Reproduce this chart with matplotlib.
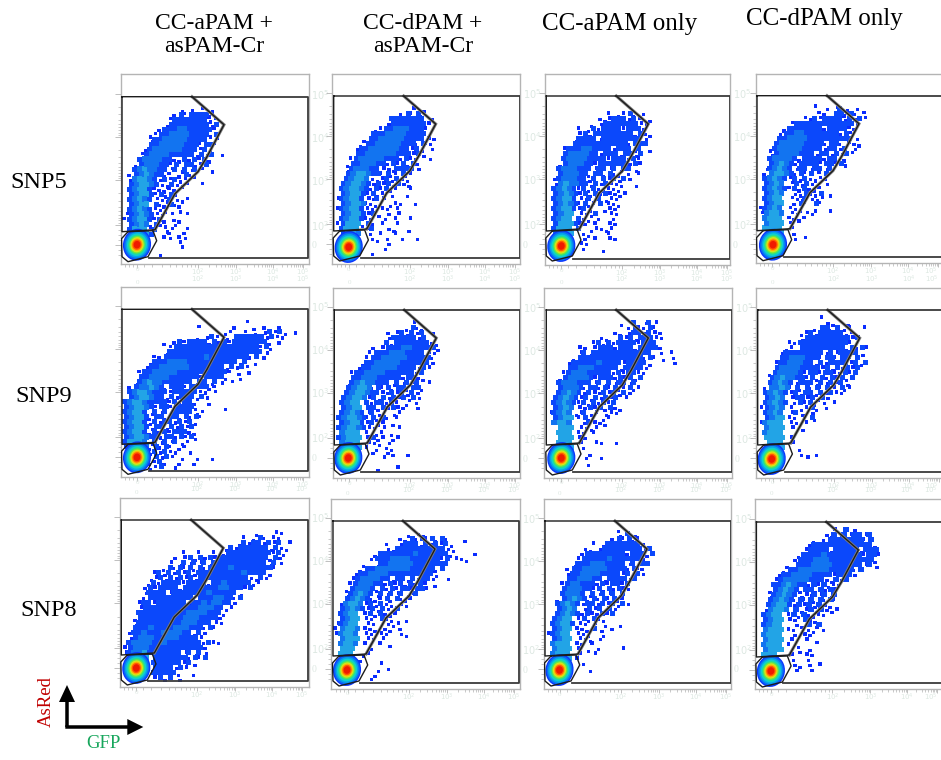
import numpy as np
from matplotlib import pyplot as plt
from matplotlib.patches import Ellipse

plt.rcParams['font.family'] = ['Liberation Serif', 'DejaVu Serif']

col_titles = ['CC-aPAM +\nasPAM-Cr', 'CC-dPAM +\nasPAM-Cr', 'CC-aPAM only', 'CC-dPAM only']
title_x = [214, 423, 620, 824]
title_y = [35, 35, 24, 19]
title_size = [17, 17, 18, 18]
row_names = ['SNP5', 'SNP9', 'SNP8']
row_name_x = [39, 44, 49]
row_name_y = [182, 396, 610]

x_tick_labels = ['0', '$10^{2}$', '$10^{3}$', '$10^{4}$', '$10^{5}$']
y_tick_labels = ['$10^{5}$', '$10^{4}$', '$10^{3}$', '$10^{2}$', '0']

# panel frames, in pixels of the picture
frame_left = [120.7, 332.3, 545, 755.7, 120.7, 333, 544.3, 756.3, 120, 331.3, 543.5, 755]
frame_right = [308.7, 520.3, 730.3, 944, 308.7, 520.3, 732.3, 944, 308.7, 519.5, 731, 944]
frame_top = [74, 74, 74, 74, 287.3, 288, 288, 288, 498, 499, 499, 499]
gate_left = [122, 333.7, 546.3, 757, 122, 334.3, 546.3, 757.7, 121.3, 333, 545, 756.4]
gate_top = [96.7, 96, 96, 95.7, 309.3, 310, 310, 310, 520, 521, 521, 522]
gate_bottom = [258.3, 258.3, 259, 257.3, 471.3, 472, 471.7, 471.7, 681.3, 682.7, 683, 683]

core_x = [15, 15, 15, 16, 15, 14, 15, 14, 15, 14, 14.5, 14.5]
core_y = [148, 151, 150, 149, 148, 148, 148, 149, 148, 149, 149, 149]

# gate outlines, offsets from the top left corner of the gate
upper_gate_x = [0, 70, 102, 85, 76, 53, 33, 0, 0]
upper_gate_y = [0, 0, 28, 60, 75, 97, 133, 135, 0]
core_gate_x = [6, 31, 34.7, 26, 6, 0, -0.5, 6]
core_gate_y = [135, 134, 144, 160, 165, 160, 142, 135]

# density of the central population, outside to centre
core_rx = [14, 12.8, 11.4, 10, 8.8, 7.7, 6.6, 5.6, 4.6, 3.4]
core_ry = [16, 14.6, 13, 11.4, 10, 8.8, 7.6, 6.4, 5.2, 3.8]
core_colors = ['#0a35ff', '#0a6cf5', '#06a4ea', '#0fd0d0', '#25e090', '#70e840',
               '#d0e820', '#ffb400', '#ff5a00', '#f01a00']

# events, one character per 5 px cell below the gate top:
# . single event, 1 2 3 increasing density
snp5_apam_cr = ['', '',
    '           . . . .',
    '          .1.1111.',
    '         .1111111..',
    '        .11111111.1',
    '       .1112211111.',
    '     ..1122221111.1',
    '     .11222221111 .',
    '     1122222111.11.',
    '    .1222222111.1.',
    '   .1222211111.1.1 .',
    '   1222211..1.1.1.',
    '  .122211.1 11..1',
    '  1232211.1.1.1. .',
    ' .123211.. .1..',
    ' .23321.1.1..',
    ' 123321..1...  .',
    ' 12331.....',
    ' 12331.1.1.',
    ' 12321...1...',
    ' 1233 1..1..',
    ' 12321...  .',
    '.12321.. .  .',
    '.12331.1. ..',
    ' 1232.1.. .',
    ' 1333 1 ..  .',
    ' 13331  .. ..',
    '         . ..',
    '           .',
    '',
    '       .']
snp5_dpam_cr = ['', '',
    '               . .',
    '             .1.1.',
    '           1111111 .',
    '          .1111111.',
    '        ..11222111.',
    '       11122221111',
    '     . 11222221111..',
    '     .1122222111.1..',
    '    .1122222211.1. .',
    '    11222222111.1.',
    '   .122222111.1..  .',
    '  .1122211.1.1.1.',
    '  .122211...1111.',
    '  1233211.1..1..',
    '  12332...1.1..',
    ' 123321.1.1.1..',
    ' 123321.1.1..  .',
    ' 12331.1.. .  .',
    '.12331..1.',
    ' 12332...  ...  .',
    '.12331.. .. .',
    ' 12331.1. . .',
    ' 12331..  . .  .',
    '.1333.1. .  .',
    ' 1333 .1  ..  .',
    ' 1332  . .  .',
    '       .. .  .  .',
    '          .',
    '          .',
    '       .']
snp5_apam_only = ['', '', '',
    '            . ..1. .',
    '          ...111.1. .',
    '        . .1111111..',
    '      . .1.1111.111.',
    '      .1.11111111.1..',
    '     .1111.11111111.',
    '     11111111111.111',
    '   .111221111.111.1 .',
    '   1222211.111.11.1',
    '   122221111.111.1.',
    '  .122211.111111.1.',
    '  1222111.11.1.11.',
    '  122211.11.1.. . .',
    ' .122211.1 1.1.1.',
    ' .232211.1.1...  .',
    ' 12321.1.1.....',
    ' 12321.1.1.1....',
    ' 12331..1.1...',
    ' 12321.1..1 ...',
    ' 12331.1.  ...',
    ' 1233 ...1  ..',
    ' 1233 1.. .  .',
    ' 13331.. .  ..',
    ' 1333 1 .....',
    ' 2333  ..   .',
    '       . .  ..',
    '      ..',
    '       .   .']
snp5_dpam_only = ['',
    '           .',
    '             . .1. .',
    '            .. 11.1. .',
    '         ..1.1111.1.1.',
    '      .111111111111.',
    '     .1111111.1111..',
    '    .11221111111.1.',
    '    112222111111111.',
    '   1222221111.11. ...',
    '  .1222221111.11.1 .',
    '  .12222111.11.1.1.',
    '  122221.1111.11 .',
    '  12321.1111.11.1.',
    ' .12321.11.11.1',
    ' .23321.1.1 .1',
    ' 12321.1.1....',
    ' 1232 .1.1.  .',
    ' 12321.1.1...',
    ' 1232  ..1..1 .',
    ' 1233 ...1...',
    ' 1233  .1. 1.',
    '.1232 ...  .  .',
    '.2332 .. ..',
    ' 2333 ....',
    ' 2333 .',
    ' 3333 .',
    '  333  .',
    '       . .']
snp9_apam_cr = ['', '',
    '                        .',
    '               .      .   . .  .',
    '                    ..  . . .1.1. .',
    '              . .1. . 111111.1..',
    '        . .1.1111.1.1.1111111. .',
    '         .11111111111111111.1.',
    '        .1111111111111111111.',
    '      ..11111111211111111.1 .',
    '     .11122221111111111.1 .',
    '    .112222221111111.1.1.',
    '   .11222221111111111. . .',
    '   112222111111.1111.  .',
    '  .12322111111.11.1. .',
    ' .122321.111.1111..',
    ' 12332111.11111.. .',
    ' 1233211.1.111.1.',
    '123321111.1.11.  .',
    '123321.11.1111.     .',
    '12331.1.1.1111..',
    '12331.11.11.1.1.',
    '12331.1.11.1.1.',
    '12331.11.1.1.1',
    '12331.1.1.111..',
    '1233211.11.1.1.',
    '13332.1.1.1..',
    '13332.1.1. ..',
    '     .1.1..  .',
    '      1.1. .  .  .',
    '     ..1.  .  .',
    '     ..1  .']
snp9_dpam_cr = ['', '',
    '               .',
    '              .1..',
    '          . .1.1.1 .',
    '          .11111.1',
    '          1.1111111..',
    '       . .1112211111.',
    '      . 1112221111..',
    '      .112222211111.',
    '     .1122222111111.',
    '    .11222221111.1.',
    '   .112222111111.1',
    '   1122211111.11..',
    '  .12322111.1.1.1 .',
    '  12332.1.1.11.11.',
    '  1233211..1.1.1.',
    ' 12332.1.1.1.1.1.',
    ' 1233 1.11.1. . .',
    ' 1233 11.1.1..  .',
    ' 12321.1.  ..',
    '123321.1.1. .',
    ' 12331.1.. .',
    '123321.. .  .',
    ' 2333 . .. .',
    '12333 .1.. ..',
    ' 2333 ... .',
    ' 3333 . . ..',
    '       .  ..  .',
    '         .',
    '',
    '        .   .']
snp9_apam_only = ['', '',
    '              .  1 .1.',
    '                .1..1.',
    '             .. .11.1..',
    '          ..  1.1.111..',
    '         .1.1.1111.111',
    '      .. .111.111.1111.',
    '      .1.111111111111 . .',
    '     .1111111111111.1. . .',
    '    .1111121111.1111.    .',
    '    1122211111.1111.',
    '   .122211111.1.11..',
    '  .122221.111.1.1.1',
    '  1222111.1.1.11.1',
    '  12221.11.1.1..1..',
    '  12321.1..1.1.1.',
    ' 12321.1.1.1.1 .',
    ' 12321.1.1.1.1',
    ' 1232 ..1.1.1..',
    '.1232..1.. ...',
    ' 1233 .1.  ..',
    ' 2332  .1...',
    '  333 ....',
    '  333 .. .',
    '  333 ..',
    '  333 .  ..  .',
    '  333  .',
    '        .',
    '       .  .',
    '        .']
snp9_dpam_only = ['',
    '            .',
    '             ..  .',
    '           .11.1 ..  .',
    '        ..1.11111..',
    '        .111111111.1',
    '      ..1111111111.',
    '     .. 111111111.1.1.',
    '    .11111111.1.1111.',
    '    11222111.11.11.1',
    '   .1122211.1.1111.1.1',
    '   122221111.1.1.1.1',
    '  .122221.11.11..1.1',
    '  1232211.1.1.1.1.1',
    '  12321.111.1.1.1.',
    ' .2232.1.1.1.1..1..',
    ' 12321.1.11.1.1..',
    ' 1232 .11.1.1.',
    ' 12321 .1.1. . .',
    '.1232 . ..1. .',
    ' 1232 .1. .',
    ' 1233 .. .1.',
    '.2333 .. .',
    ' 2333 . .',
    ' 2333',
    ' 3333 .',
    '  333 .',
    '  333   .',
    '        .  .',
    '         .']
snp8_apam_cr = ['', '',
    '                          .   ..',
    '                        . .1. ..',
    '                       .1.11.1.1 .',
    '                    .1.111111.1..',
    '            .  .  . .111111111.1.',
    '          . .1.1.1.1111111111.1.',
    '         . .1.1.1.11111111111.1.',
    '        .1.1.1.1.1111211111111.',
    '      .1.1.1.1.11111111121111.',
    '     ..1.1.1.1.1111111111..1.',
    '     .1.1111.1111.11211111..',
    '    .1.1111.111111122111.1',
    '    .1111.1111111211111.',
    '    .111111111.1112211.1',
    '   .11.111111.11212211.',
    '   .1111111111122211..',
    '   11111111112222111.',
    '  .1111111112221111.',
    '  .111111111222111..',
    '  11121111222111.1.',
    ' .112111222211.1.',
    ' .1222112221111.',
    ' 122221121111111.1..',
    '.122211111111111.',
    '.12231111111.1.1.',
    ' 1233 1111111.1.1',
    '      111111.1.',
    '      1111.1.',
    '      11111.  .',
    '      .1.1 .']
snp8_dpam_cr = ['', '',
    '              . ..',
    '             ..1.1.1.1.   .',
    '          .  .111.1.1.1.',
    '          ..1111111111..',
    '        .11111112111111.    .',
    '       .1112222111111.1 ...',
    '     .  .11222221111111',
    '     .11222222211111.1',
    '    .112222111111111.',
    '   .1222211.11.1.11.  .',
    '   .122211.1.1.1.1. .',
    '  .12221.1.1.11.11.',
    '  .12321.1.1.1..1',
    '  12321...1.1...',
    ' .2332.1.1.. ..',
    ' 12321.1.1..1',
    ' 1233 .1.1...',
    ' 1233 .. 1..  .',
    '.1233 ..  ...',
    '.2332 ... .. .',
    '.2332 .. ..  ..',
    ' 2333 .. .',
    ' 2332 .  . .',
    ' 333   .',
    ' 333 ..',
    ' 333 .',
    '         .',
    '        . .',
    '        .',
    '       .']
snp8_apam_only = ['',
    '              .',
    '              . 1.',
    '             .1.1..',
    '         . .1111111.',
    '       .. .11111111.1',
    '       .11111111.111.1',
    '      .111112111111.',
    '     .1112221111.1.11',
    '    .11222221111.1..',
    '    .1122221111.1.1.',
    '    1122211.1111.1',
    '   .122111.1.11.1',
    '   122211.1.1.1..',
    '   12221.1.1.1.1',
    '  .12321.1.1.1..',
    '  12321.11.1.1.1.',
    '  1232 .1.1.1.',
    '  12321.1..1.1',
    ' 1233 .1.1..',
    ' 12331.. . .  .',
    ' 1233 ...1 . .',
    '.1233 ...  .',
    ' 1233 ... .',
    ' 2333 .. .',
    ' 2333 . . .    .',
    ' 2333 .  .',
    '  333 .',
    '       .',
    '        .']
snp8_dpam_only = ['',
    '               . 1 .',
    '             ..1.1.11.1',
    '           . .1111111.1',
    '          .111111111111.',
    '         .1111.11111.111',
    '        .111121111111.11.',
    '       .111222111111111.',
    '     .  1112222111111.1.',
    '     .1122222211111.1',
    '    .1122221111.111.',
    '   .122222111..1.1',
    '   1123211.1.1...',
    '  .12321.11.1.1.',
    '  .12321...1.1.1',
    '  12321.1.1.1.1.',
    '  12331.1.1.1..',
    ' .2332 1..1.1...',
    ' 1233 .1.1....',
    ' 1233 .. 1..',
    ' 1233  .. 1.1',
    ' 2333 ..  .. .',
    ' 2333  . ..',
    ' 2333 .  . .',
    ' 2333 . .',
    ' 2333   . .',
    ' 333  .  ..',
    ' 333   .  .',
    '       .. . .',
    '       .  .']

panels = [snp5_apam_cr, snp5_dpam_cr, snp5_apam_only, snp5_dpam_only,
          snp9_apam_cr, snp9_dpam_cr, snp9_apam_only, snp9_dpam_only,
          snp8_apam_cr, snp8_dpam_cr, snp8_apam_only, snp8_dpam_only]

cell_colors = {'.': '#0a2cff', '1': '#0b48fb', '2': '#1274f0', '3': '#22a4e6'}
cell_sizes = {'.': 6, '1': 15, '2': 16, '3': 16}

W, H = 941, 760
PALE = '#dde8e2'


def log_ticks(majors):
    minors = []
    for a, b in zip(majors[:-1], majors[1:]):
        for k in range(2, 10):
            minors.append(a + (b - a) * np.log10(k))
    return minors


if __name__ == '__main__':
    fig = plt.figure(figsize=(W / 100, H / 100), dpi=100)

    for i, rows in enumerate(panels):
        gl, gt, gb = gate_left[i], gate_top[i], gate_bottom[i]
        fl, fr, ft = frame_left[i], frame_right[i], frame_top[i]
        fb = gb + 6
        ax = fig.add_axes([fl / W, 1 - fb / H, (fr - fl) / W, (fb - ft) / H])
        ax.set_xlim(fl, fr)
        ax.set_ylim(fb, ft)

        xs, ys, cs, ss = [], [], [], []
        for r, row in enumerate(rows):
            for c, ch in enumerate(row):
                if ch == ' ':
                    continue
                if ch == '.':
                    # single events on a sheared lattice so they do not line up
                    xs.append(gl + 5 * c + 2 + (r % 3) * 1.7)
                    ys.append(gt + 5 * r + 2 + (c % 3) * 1.7)
                else:
                    xs.append(gl + 5 * c + 2.5 + (r % 2) * 2)
                    ys.append(gt + 5 * r + 2.5)
                cs.append(cell_colors[ch])
                ss.append(cell_sizes[ch])
        # densest cells go on top
        order = np.argsort(ss)
        ax.scatter(np.array(xs)[order], np.array(ys)[order], c=np.array(cs)[order],
                   s=np.array(ss)[order], marker='s', linewidths=0, zorder=2)

        for rx, ry, col in zip(core_rx, core_ry, core_colors):
            ax.add_patch(Ellipse((gl + core_x[i], gt + core_y[i]), 2 * rx, 2 * ry,
                                 angle=10, facecolor=col, edgecolor='none', zorder=3))

        ux = [gl + v for v in upper_gate_x]
        uy = [gt + v for v in upper_gate_y]
        ax.plot(ux[1:7], uy[1:7], color='#808080', lw=2.2, zorder=4, solid_joinstyle='miter')
        ax.plot(ux, uy, color='#1c1c1c', lw=1.0, zorder=5)
        ax.plot([gl + 70, fr - 0.3, fr - 0.3, gl + 27], [gt, gt, gb, gb],
                color='#3a3a3a', lw=1.3, zorder=4)
        ax.plot([gl + v for v in core_gate_x], [gt + v for v in core_gate_y],
                color='#1c1c1c', lw=1.0, zorder=5)

        for s in ax.spines.values():
            s.set_color('#b4b4b4')
            s.set_linewidth(1.0)

        x_major = [gl + v for v in [15, 76, 114, 151, 181]]
        y_major = [gt + v for v in [-3, 40, 83, 128, 148]]
        ax.set_xticks(x_major)
        ax.set_xticklabels(x_tick_labels)
        ax.set_yticks(y_major)
        ax.set_yticklabels(y_tick_labels)
        ax.set_xticks(log_ticks(x_major[1:]) + [gl + v for v in [3, 7, 11, 22, 30, 40, 48, 54, 60, 65, 69, 73]], minor=True)
        ax.set_yticks(log_ticks(y_major[:4]) + [gt + v for v in [133, 138, 143, 153, 158]], minor=True)
        ax.tick_params(axis='x', which='major', length=3, width=0.6, color='#b4b4b4', labelsize=5,
                       labelcolor=PALE, pad=-1, labeltop=i >= 4, labelbottom=True)
        ax.tick_params(axis='x', which='minor', length=2.5, width=0.5, color='#b4b4b4')
        ax.tick_params(axis='y', which='major', length=4, width=0.6, color='#b4b4b4', labelsize=7,
                       labelcolor=PALE, pad=-2, labelleft=False, labelright=i % 4 != 3, left=True, right=False)
        ax.tick_params(axis='y', which='minor', length=2.5, width=0.5, color='#b4b4b4', left=True, right=False)
        if i % 4 == 3:
            # last decade of the right column runs into the picture edge
            ax.xaxis.get_major_ticks()[-1].label1.set_horizontalalignment('right')
            ax.xaxis.get_major_ticks()[-1].label2.set_horizontalalignment('right')

    overlay = fig.add_axes([0, 0, 1, 1], facecolor='none')
    overlay.set_xlim(0, W)
    overlay.set_ylim(H, 0)
    overlay.axis('off')

    for name, x, y, size in zip(col_titles, title_x, title_y, title_size):
        overlay.text(x, y, name, ha='center', va='center', fontsize=size, linespacing=1.1, color='black')
    for name, x, y in zip(row_names, row_name_x, row_name_y):
        overlay.text(x, y, name, ha='center', va='center', fontsize=17.5, color='black')

    overlay.arrow(67, 727, 0, -42, width=3.5, head_width=16, head_length=17,
                  length_includes_head=True, color='black', linewidth=0)
    overlay.arrow(65.3, 727, 78, 0, width=3.5, head_width=16, head_length=16,
                  length_includes_head=True, color='black', linewidth=0)
    overlay.text(46, 702, 'AsRed', rotation=90, ha='center', va='center', fontsize=13.5, color='#c00000')
    overlay.text(103, 743, 'GFP', ha='center', va='center', fontsize=13.5, color='#17a65c')

    plt.savefig('out.png', dpi=100)
